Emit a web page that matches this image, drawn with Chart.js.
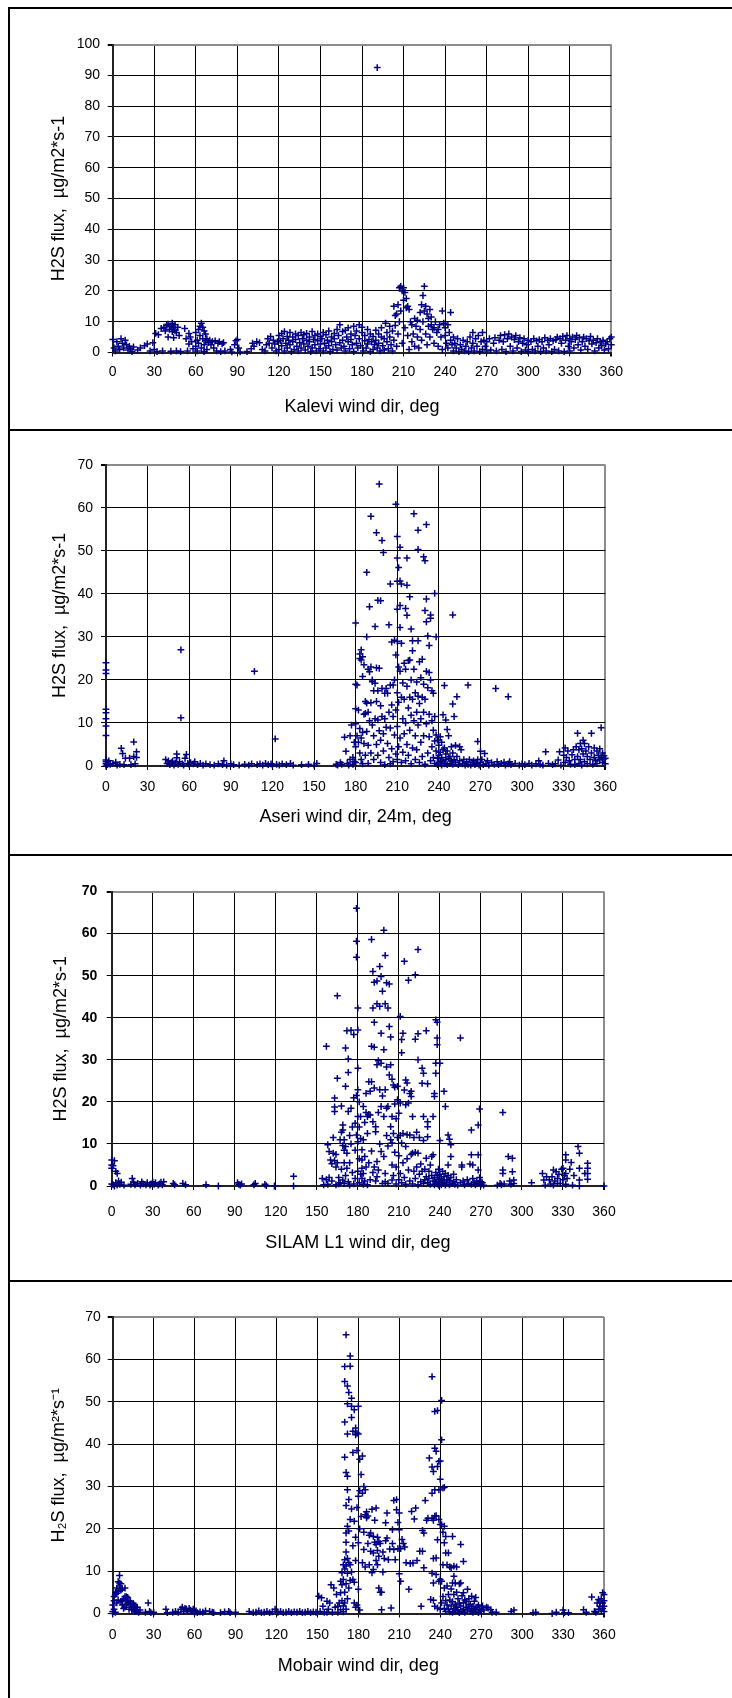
<!DOCTYPE html>
<html>
<head>
<meta charset="utf-8">
<script src="https://cdn.jsdelivr.net/npm/chart.js@4.4.0/dist/chart.umd.min.js"></script>
<style>
body { margin: 0; background: #fff; }
#page { position: relative; width: 732px; height: 1698px; overflow: hidden; background: #fff; }
#page canvas { position: absolute; left: 0; }
.frame { position: absolute; background: #000; }
</style>
</head>
<body>
<div id="page">
  <canvas id="kalevi" width="732" height="430" style="top:0px"></canvas>
  <canvas id="aseri" width="732" height="424" style="top:431px"></canvas>
  <canvas id="silam" width="732" height="425" style="top:856px"></canvas>
  <canvas id="mobair" width="732" height="416" style="top:1282px"></canvas>
  <div class="frame" style="left:8px;top:7px;width:724px;height:2px"></div>
  <div class="frame" style="left:8px;top:7px;width:2px;height:1691px"></div>
  <div class="frame" style="left:8px;top:429px;width:724px;height:2px"></div>
  <div class="frame" style="left:8px;top:854px;width:724px;height:2px"></div>
  <div class="frame" style="left:8px;top:1280px;width:724px;height:2px"></div>
</div>
<script>
// tick labels
const dirTicks = [0, 30, 60, 90, 120, 150, 180, 210, 240, 270, 300, 330, 360];
const fluxTicks100 = [0, 10, 20, 30, 40, 50, 60, 70, 80, 90, 100];
const fluxTicks70 = [0, 10, 20, 30, 40, 50, 60, 70];

// [wind dir, H2S flux]
const kaleviPoints = [
  [0,4.2],[1,1.5],[2,0.5],[3,3.5],[4,2],[5,1],[6,4.5],[7,3],[8,1.5],[9,4],[10,2.5],[11,0.8],[12,2],[13,1.2],[14,0.3],[15,1.8],
  [18,0.8],[20,1.5],[23,2.2],[25,2.8],[27,0.5],[29,3.2],[30,1],
  [31,6.2],[32,0.3],[33,5.8],[35,7.8],[36,0.5],[37,8.2],[38,7],[39,8.8],[40,5],[40,9.2],[41,7.5],[42,8.5],[42,0.4],[43,9.5],[43,6.8],[44,8],[44,4.8],[45,9],[45,7.2],[46,6.5],[46,0.5],[47,8.2],[48,5.5],[49,0.3],
  [52,7.8],[53,4.5],[54,0.5],[55,2.8],[55,6.2],[56,5],[57,3.5],[58,1.2],
  [60,2],[60,6.5],[61,4],[61,0.5],[62,7.5],[62,3],[63,8.5],[63,5.5],[64,9.5],[64,1.5],[65,8.2],[65,4.5],[66,7],[66,2.5],[66,0.3],[67,6],[67,3.8],[68,4.5],[68,1],[69,3.2],[70,4],[71,2.5],[72,3.5],[73,1.5],[74,3.8],[75,0.5],[76,3],[77,3.5],[78,0.3],[79,2.8],[80,3.2],[81,0.5],
  [85,1],[86,0.2],[88,2.5],[89,3.8],[90,4.2],[91,1.5],[92,0.2],
  [97,0.3],[100,1.2],[101,3],[102,2],[104,3.5],[106,3.2],[108,1],
  [110,0.5],[111,2.5],[112,4.5],[113,3],[114,5.2],[115,1.5],[116,4],[117,2.8],[118,0.5],[119,3.5],
  [120,5.5],[120,1],[121,3.8],[122,6.2],[122,2.2],[123,4.5],[124,0.5],[124,6.8],[125,3],[126,5.2],[126,1.5],[127,4],[128,6.5],[128,2.5],[129,0.3],[130,5],[130,3.5],[131,1],[132,6],[132,4.2],[133,2],[134,5.5],[134,0.5],[135,3.2],[136,6.5],[136,1.5],[137,4.5],[138,2.8],[138,5.8],[139,0.8],[140,4],[140,6.2],[141,2],[142,5],[142,3.5],[143,0.3],[144,6.8],[144,1.5],[145,4.2],[146,5.5],[146,2.5],[147,0.5],[148,3.8],[148,6],[149,1.2],[150,5.2],[150,2.8],[151,4.5],[152,0.5],[152,6.5],[153,3],[154,1.5],[154,5.8],[155,4],[156,2.2],[156,7],[157,0.3],[158,5],[158,3.5],[159,1],
  [160,6.2],[160,4.5],[161,2.5],[162,7.5],[162,0.8],[163,5.5],[164,3.2],[164,9],[165,1.5],[166,6.8],[166,4],[167,2],[168,7.2],[168,0.5],[169,5],[170,3.5],[170,8],[171,1.2],[172,6],[172,4.2],[173,2.5],[174,8.5],[174,0.3],[175,5.5],[176,3],[176,7],[177,1.5],[178,9],[178,4.5],[179,2.2],
  [180,6.5],[180,8.2],[181,0.5],[182,3.8],[182,5.5],[183,1.5],[184,7.5],[184,2.8],[185,4.2],[186,0.3],[186,6],[187,3.5],[188,1],[188,5.2],[189,2.5],[190,7.2],[190,4],[191,92.5],[191,1.5],[192,6],[192,3],[193,0.5],[194,5],[194,8],[195,2.2],[196,4.5],[196,0.8],[197,9.5],[198,6.5],[198,3.5],[199,1.2],
  [200,8.5],[200,5],[201,2.5],[202,7],[202,0.5],[203,15],[203,4],[204,12],[204,8.8],[205,12.5],[205,2],[206,15.5],[206,6],[207,21],[207,10],[208,21.5],[208,13.5],[209,20],[209,3],[210,21],[210,17],[211,19.5],[211,8],[212,17.5],[212,14.5],[213,15],[213,5.5],[214,14],[214,1],[215,10],[216,9],[216,3.5],[217,6],[218,11],[218,2],[219,8.5],
  [220,5],[220,10.5],[221,1.5],[222,13],[222,7.5],[223,15.5],[223,4],[224,18.5],[224,10],[225,21.5],[225,13.5],[226,15],[226,6],[227,12.5],[227,2.5],[228,11],[228,8.5],[229,14],[229,5],[230,9],[230,11.5],[231,7.5],[232,3],[232,8],[233,10],[234,6.5],[235,7.5],[235,2],[236,9],[237,5],[238,13.5],[238,1],[239,9.5],
  [240,5.5],[240,8],[241,3],[242,9],[242,1.5],[243,6.5],[244,13],[244,4],[245,2.5],[246,5],[246,0.5],[247,3],[248,1.5],[249,4.5],[250,0.3],[251,2.5],[252,1],[253,4],[254,0.5],[255,2],[256,3.5],[257,0.3],[258,5],[259,1.5],
  [260,6.5],[260,3],[261,0.5],[262,4.5],[263,2],[264,5.5],[265,0.3],[266,3.5],[267,6.5],[267,1],[268,4],[269,2],[270,0.5],[270,3.5],
  [272,4.5],[273,0.8],[275,3],[276,4.8],[277,0.5],[279,4],[280,5.5],[281,1],[282,3.5],[283,5.8],[284,0.3],[285,4.5],[286,6],[287,2],[288,5],[289,0.5],[290,4.2],[291,5.5],[292,1.5],[293,3.5],[294,4.8],[295,0.3],[296,3],[297,4.5],[298,0.8],[299,2.5],
  [300,4],[300,0.3],[302,3.5],[303,1],[304,4.5],[305,0.5],[306,3.8],[307,2],[308,4.2],[309,0.3],[310,3.5],[311,1.5],[312,4.8],[313,0.5],[314,4],[315,2.5],[316,4.5],[317,0.3],[318,3.8],[319,1],[320,4.2],[321,5],[322,0.5],[323,4.5],[324,3],[325,5.2],[326,0.3],[327,4],[328,5.5],[329,2],
  [330,4.5],[330,0.5],[331,3.5],[332,5],[333,1.5],[334,4.2],[335,5.5],[336,2.5],[337,4.8],[338,0.8],[339,3.5],[340,5],[341,2],[342,4.5],[343,1],[344,3.8],[345,5.2],[346,2.8],[347,4],[348,0.5],[349,3.2],[350,4.5],[351,1.5],[352,3.5],[353,2.2],[354,4],[355,0.8],[356,2.8],[357,3.5],[358,1.2],[359,4.5],[360,2.5],[360,5]
];

const aseriPoints = [
  [0,24],[0,22.3],[0,21.5],[0,13.2],[0,12.4],[0,11],[0,9.3],[0,7.1],[0,1.4],[0,1],[0,0.5],[0,0],[1,0.3],[2,1.2],[3,0.4],[5,0.6],[7,0.9],[8,0.2],[10,0.4],
  [11,4.1],[12,2.9],[13,0.3],[14,1.8],[17,1.8],[18,0.3],[20,5.6],[20,2.2],[21,0.5],[22,3.3],[22,2],
  [43,1.5],[44,0.6],[45,1.2],[46,0.3],[47,0.8],[48,1.1],[49,0.2],[50,0.7],[51,2.8],[51,1.9],[52,0.4],[53,1],[54,27],[54,11.2],[55,0.5],[56,0.2],[57,1.8],[58,2.7],[59,0.6],[60,0.3],[61,0.8],[63,0.5],[64,1],[66,0.3],[68,0.6],[70,0.2],[72,0.5],
  [75,0.3],[78,0.2],[81,0.5],[84,0.3],[85,1.2],[87,0.2],[90,0.5],[92,0.3],[96,0.2],[100,0.4],[103,0.2],[105,0.5],[107,22],[109,0.3],[111,0.5],[113,0.2],[115,0.6],[117,0.3],[119,0.5],[120,0.2],[122,6.3],[123,0.4],[125,0.2],[127,0.5],[130,0.3],[133,0.6],[135,0.2],[141,0.3],[146,0.4],[150,0.2],[152,0.6],
  [166,0.4],[167,0.2],[169,0.8],[170,0.4],[172,6.7],[173,3.4],[174,0.6],[175,0.2],[176,1.5],[176,7],[177,9.5],[178,2],[178,0.4],[179,5.5],[179,1],
  [180,33.2],[180,19],[180,13.3],[180,9.8],[180,4.5],[180,0.8],[181,18.8],[181,7],[182,13],[182,5.5],[183,26],[183,25],[183,8.7],[183,3],[184,27],[184,24.6],[184,6.5],[184,1.5],[185,25.4],[185,20.8],[185,7.8],[185,0.5],[186,23.5],[186,12],[186,5.2],[187,15],[187,12.2],[187,2.5],[188,45],[188,30],[188,14.6],[188,8],[189,22.5],[189,12.5],[189,4.8],[189,0.6],
  [190,37],[190,21.9],[190,10.5],[191,58],[191,23],[191,14.7],[191,3],[192,20],[192,19.6],[192,9.5],[193,17.5],[193,7],[193,1.5],[194,32.4],[194,19.2],[194,11],[195,54.2],[195,22.8],[195,15],[195,5],[196,38.5],[196,17.5],[196,10.7],[196,2.5],[197,65.5],[197,22.7],[197,8.2],[198,38.4],[198,14],[198,6],[198,0.8],[199,52.4],[199,18],[199,11.5],
  [200,49.6],[200,7.5],[200,3.5],[201,16.9],[201,11],[201,0.3],[202,18],[202,9],[203,16.9],[203,5.2],[204,32.8],[204,12.5],[204,2],[205,42.3],[205,18.8],[205,8.8],[205,0.5],[206,28.8],[206,14.2],[206,4],[207,18.8],[207,11.5],[207,1],[208,29.2],[208,20],[208,7.2],[209,60.8],[209,25.8],[209,13],[209,2.8],
  [210,53.3],[210,48.3],[210,42.9],[210,36.4],[210,29],[210,17],[210,9.2],[210,1.5],[211,46.1],[211,23],[211,14.8],[211,4.5],[212,50.8],[212,37.3],[212,32.2],[212,43],[212,22],[212,6.5],[213,42.3],[213,28.5],[213,16],[213,0.8],[214,19.3],[214,11],[214,3.2],[215,23.9],[215,15.5],[215,7.5],[216,36.6],[216,22.5],[216,10],[216,1.2],[217,48.3],[217,42],[217,35],[217,18.5],[217,5],[218,24.5],[218,13.5],[218,2.5],[219,39.3],[219,24.6],[219,16],[219,8.3],
  [220,31.8],[220,20],[220,11.8],[220,0.5],[221,29.1],[221,26.8],[221,15.5],[221,4.2],[222,58.6],[222,22.5],[222,10.5],[223,17],[223,7],[223,1.5],[224,19.5],[224,12.5],[224,3.8],[225,54.8],[225,29.1],[225,50.3],[225,16.2],[225,9.5],[226,24.2],[226,14.5],[226,0.8],[227,20.5],[227,11],[227,5.5],[228,24.8],[228,16],[228,2.2],[229,48.6],[229,19],[229,12.5],[229,7],
  [230,47.7],[230,36.1],[230,15.5],[230,0.4],[231,56.1],[231,38.8],[231,33.5],[231,22],[231,9.8],[232,30.2],[232,18.2],[232,3],[233,28],[233,21.7],[233,12],[233,6.8],[234,35.1],[234,34.3],[234,20],[234,1.2],[235,17.5],[235,10.5],[235,4.5],[236,16.9],[236,8.3],[236,2],[237,40.1],[237,11.5],[237,5.8],[237,0.6],[238,30],[238,7.2],[238,3.5],[239,6],[239,1.8],[239,0.3],
  [240,4.8],[240,2.5],[240,0.8],[241,6.8],[241,3.2],[241,1],[242,5.5],[242,2],[242,0.2],[243,11.9],[243,3.8],[243,1.2],[244,18.7],[244,4.2],[244,0.5],[245,10.7],[245,2.8],[245,1.5],[246,8.5],[246,3.5],[246,0.3],[247,7],[247,1.8],[248,2.2],[248,0.6],[249,4.5],[249,1.2],
  [250,35.1],[250,14.4],[250,3],[250,0.4],[251,11.5],[251,1.5],[252,4.8],[252,0.8],[253,16.1],[253,2.2],[254,0.3],[255,4.5],[255,1.2],[256,3.8],[257,0.5],[258,1.5],[259,0.2],[260,1],[261,18.8],[261,0.4],[262,1.5],[263,0.2],[264,0.8],[265,1.2],[266,0.3],[267,0.6],[268,5.7],[268,1.5],[269,0.2],
  [270,3.4],[270,0.8],[271,1.5],[272,0.3],[273,2.9],[274,0.6],[275,1.2],[276,0.2],[278,0.8],[280,0.4],[281,18],[282,1],[283,0.3],[285,0.6],[287,0.9],[288,0.2],[290,16.1],[290,0.5],[291,1],[292,0.3],[295,0.6],[298,0.2],
  [300,0.5],[302,0.3],[305,0.6],[307,0.2],[310,0.5],[312,1.2],[313,0.4],[315,0.2],[317,3.3],[319,0.6],[322,0.3],[324,0.5],[326,1.4],[327,3.3],[328,0.2],
  [330,2.5],[331,4.2],[331,0.8],[332,2],[333,3.5],[334,1.2],[335,0.4],[336,2.6],[337,3.8],[338,1.5],[338,0.3],[339,4.5],[340,7.6],[340,2.2],[341,3.8],[341,0.6],[342,5.2],[342,1.5],[343,4],[343,0.2],[344,6],[344,2.8],[345,5.2],[345,1],[346,3.5],[347,0.5],[347,2.2],[348,4.5],[349,1.5],
  [350,7.6],[350,3],[351,0.4],[352,4.2],[352,2],[353,1.2],[354,3.5],[354,0.6],[355,2.5],[356,4],[356,1.5],[357,8.9],[357,2],[358,3],[358,0.8],[359,2.4],[359,1.6],[360,1.8],[360,0.5]
];

const silamPoints = [
  [0,6.2],[0,5],[0,4.2],[0,0.5],[1,4.8],[1,0.3],[2,6],[2,0],[3,3.5],[3,0.8],[4,3],[4,0.2],[5,1.2],[6,0.4],[7,0.9],[9,0.2],
  [14,0.4],[15,1.8],[16,0.9],[17,0.3],[19,0.6],[21,0.2],[22,1],[23,0.5],[25,0.3],[26,0.8],[28,0.2],[29,0.5],[30,1],[31,0.4],[32,0.8],[34,0.2],[35,0.5],[36,0.9],[37,0.3],[38,1],[45,0.6],[46,0.3],[52,0.6],[54,0.3],
  [69,0.3],[78,0],[92,0.8],[93,0.4],[94,0.2],[95,0.5],[104,0.3],[105,0.6],[112,0.4],[113,0.1],[119,0],[133,2.3],[133,0],
  [154,1.8],[155,0.3],[157,1.5],[157,33.2],[158,9.8],[158,0.4],[159,8.2],[159,2],[160,6.2],[161,5.3],[161,1.2],[162,11.5],[162,7.8],[163,20.9],[163,18.8],[163,17.7],[163,6],[164,7.5],[164,4.5],[164,0.3],[165,45.2],[165,25.6],[165,5.5],[166,2],[166,0.5],[167,11],[167,0.8],[168,19],[168,12.8],[168,4],[169,14.5],[169,13.3],[169,9.6],[169,1.4],
  [170,11],[170,8.5],[170,5.5],[170,0.6],[171,32.8],[171,23.7],[171,9.4],[171,2.5],[172,36.9],[172,7.8],[172,4.2],[173,30.2],[173,27],[173,17.7],[173,1],[174,12],[174,5.5],[174,0.2],[175,37],[175,18.5],[175,10],[176,14],[176,3.2],[177,36],[177,21],[177,0.5],[178,14.9],[178,8.5],[178,1.8],[179,66],[179,58.2],[179,54.4],[179,21.5],[179,12.1],
  [180,42.3],[180,37.1],[180,28],[180,22.9],[180,16.5],[180,10.5],[180,3.5],[181,20],[181,14],[181,6.5],[181,0.8],[182,16.5],[182,11.3],[182,2.8],[183,8.6],[183,6.2],[183,4.2],[183,1.8],[184,18.9],[184,11],[184,3],[184,0.4],[185,15.1],[185,7],[185,1.2],[186,22],[186,17.5],[186,4.5],[187,16.5],[187,12.5],[187,0.3],[188,24.8],[188,17],[188,5.5],[189,22.5],[189,16.9],[189,1.5],
  [190,58.6],[190,33.2],[190,24.8],[190,8.3],[191,51],[191,42.3],[191,15.3],[191,3.2],[192,48.4],[192,38.9],[192,33],[192,23.3],[192,4.5],[193,14.1],[193,12.9],[193,1.2],[194,48.7],[194,43.3],[194,28.8],[194,5.8],[194,2.2],[195,29.8],[195,17.5],[195,3.8],[196,52.2],[196,42.7],[196,22.9],[196,10],[197,49.8],[197,36.3],[197,29.2],[197,18.9],[197,8.2],[198,46.3],[198,21.4],[198,0.6],[199,60.8],[199,32.4],[199,16.5],[199,7],
  [200,54.8],[200,43.3],[200,22.9],[200,3],[200,1],[201,48.3],[201,28.3],[201,18.5],[201,12],[202,42.3],[202,18.9],[202,9.5],[202,0.6],[203,48],[203,37.9],[203,26.4],[204,35.4],[204,28.8],[204,14.1],[204,11],[205,25.4],[205,16.5],[205,10.2],[205,5],[205,1.4],[206,24],[206,12.5],[206,2.5],[207,23.5],[207,19.5],[207,8],[208,16],[208,4.5],[208,0.5],[209,23.7],[209,20.5],[209,11.5],
  [210,17.3],[210,7.2],[210,1.5],[211,40.3],[211,19.7],[211,12],[211,3],[212,34.8],[212,31.7],[212,10.2],[212,0.8],[213,36.3],[213,12.5],[213,5.5],[214,53.4],[214,22.8],[214,2],[215,25.2],[215,19.3],[215,9.4],[215,0.4],[216,24.5],[216,12.2],[216,6.5],[217,48.9],[217,19.7],[217,3.8],[218,22],[218,12.1],[218,1.2],[219,22.5],[219,21.3],[219,7.5],
  [220,16.5],[220,7.8],[220,0.5],[221,11.5],[221,3.5],[222,50.2],[222,34.9],[222,8],[222,1.8],[223,12.8],[223,4.5],[224,56.2],[224,36.2],[224,30],[224,7.8],[224,0.3],[225,11.5],[225,2.8],[226,5.2],[226,1],[227,28],[227,24.4],[227,3.5],[228,26.8],[228,16.5],[228,10.8],[228,0.6],[229,4],[229,1.5],
  [230,36.9],[230,6.6],[230,2.2],[231,24.3],[231,15.3],[231,14.1],[231,11.7],[231,0.8],[232,3.5],[232,1.8],[233,5],[233,0.4],[234,7],[234,2.5],[235,16.5],[235,7.4],[235,1.2],[236,22],[236,21.3],[236,2],[236,0.3],[237,39.5],[237,29.2],[237,26.8],[237,3.2],[237,1],[238,38.9],[238,35.2],[238,33.6],[238,2.5],[238,0.5],[239,4],[239,1.5],[239,0.2],
  [240,29.2],[240,10.8],[240,2.8],[240,0.8],[241,1.8],[241,0.3],[242,3.5],[242,1.2],[243,22.5],[243,2.2],[243,0.6],[244,18.9],[244,3],[244,0.2],[245,1.5],[245,0.8],[246,12.1],[246,5],[246,2.5],[247,11.1],[247,1.2],[247,0.3],[248,9.8],[248,7],[248,2],[249,0.6],
  [250,2.8],[250,1],[251,0.4],[252,1.5],[253,0.2],[255,35.2],[255,0.8],[256,5],[256,4.5],[257,1.2],[258,0.3],[260,1.5],[261,0.6],[262,5.2],[263,13.3],[263,7.4],[263,0.4],[264,5],[264,1.8],[265,0.8],[266,0.3],[267,1.2],[268,14.5],[268,7.4],[268,3.8],[268,0.6],[269,18.3],[269,2],[270,1],[270,0.3],[271,0.8],[272,0.2],
  [282,0.2],[284,0.6],[285,0.3],[286,17.5],[286,3.8],[286,3],[287,0.5],[290,7],[291,1.2],[292,0.4],[293,6.6],[293,3.4],[294,1.4],[294,0.6],
  [307,0.8],[315,3],[316,1.4],[317,0.2],[318,2.2],[320,1.5],[321,0.5],[322,2.2],[323,3.8],[323,0.2],[324,1.2],[325,3.4],[326,1.8],[326,0.6],[327,2.8],[328,0.6],[329,4],
  [330,4.2],[330,1.5],[331,2.5],[332,7.4],[332,6.2],[332,3],[332,0.4],[333,1.8],[335,4],[336,5.6],[337,0.2],[338,2.5],[341,9.4],[342,7.8],[342,4.2],[342,1.4],[342,0],[346,3],[348,5.4],[348,4.2],[348,3],[348,1.6],[360,0]
];

const mobairPoints = [
  [0,0.5],[0,2],[0,0],[1,4],[1,3],[1,1],[2,5],[2,4.5],[2,0.3],[3,6],[3,2.5],[3,4.8],[4,7.5],[4,5.2],[4,3.2],[5,9],[5,6.5],[5,7.2],[6,7],[6,5.5],[6,2.8],[7,3],[7,2],[7,5.8],[8,3.5],[8,1.2],[9,6],[9,1.5],[9,4],
  [10,4],[10,3],[10,2.2],[11,2.5],[11,3.8],[12,3],[12,1],[13,2],[13,2.8],[14,1.5],[14,0.8],[15,1],[15,2.4],[16,2],[16,0.5],[17,0.5],[17,1.4],[18,1.5],[19,0.3],[20,0.8],[24,0.3],[26,2.5],[27,0.5],[28,0.2],[30,0.3],
  [39,1],[40,0.2],[44,0.3],[46,0.5],[48,0.3],[50,1],[51,1.5],[52,0.5],[53,1.2],[54,1],[55,0.5],[56,1.2],[57,0.8],[58,0.5],[59,1],[60,0.3],[61,0.6],[62,0.2],[64,0.4],[66,0.3],[68,0.6],[71,0.5],[73,0.3],[74,0.2],[79,0.2],[82,0.4],[85,0.5],[86,0.2],[90,0.3],
  [100,0.5],[103,0.2],[105,0.3],[107,0.6],[109,0.2],[111,0.3],[113,0.5],[115,0.2],[117,0.4],[119,1],[121,0.3],[123,0.5],[125,0.2],[127,0.3],[129,0.5],[131,0.2],[133,0.4],[135,0.3],[137,0.5],[139,0.2],[141,0.3],[143,0.5],[145,0.2],[147,0.4],[149,0.3],
  [151,4.1],[152,0.5],[153,3.7],[154,1.7],[155,0.3],[157,2.9],[157,0.3],[158,1],[159,2.5],[160,6.8],[161,0.3],[162,6],[163,1.5],[164,4.5],[165,1.7],[165,0.3],[166,2.5],[167,7.6],[167,4.9],[167,0.9],[168,9.6],[168,6.8],[168,3],[169,11.5],[169,8],[169,1.8],[169,0.4],
  [170,58.3],[170,54.8],[170,45.2],[170,36.9],[170,12.7],[170,10.5],[170,5],[170,2.5],[171,65.8],[171,33.3],[171,25.5],[171,19],[171,16.8],[171,14.5],[171,11.2],[171,7],[171,1],[172,53.7],[172,49.5],[172,42.4],[172,32.4],[172,29.2],[172,20.6],[172,13],[172,9.5],[172,3.5],[173,52.2],[173,26.9],[173,19.5],[173,12],[173,6],[174,60.8],[174,58.4],[174,22.2],[174,11.5],[174,7.8],
  [175,50.8],[175,48.9],[175,46.3],[175,24.7],[175,9.8],[176,43],[176,38],[176,16],[176,8],[177,48.1],[177,21.8],[177,7.4],[177,2.5],[178,43.8],[178,42.2],[178,18],[178,12.5],[178,1.5],[179,42.6],[179,38.5],[179,25],[179,2],
  [180,48.9],[180,42.4],[180,27.7],[180,16.7],[180,5.7],[181,36.4],[181,29],[181,20],[181,0.8],[182,32.8],[182,22.9],[183,37.2],[183,28.4],[183,12],[184,30],[184,19.2],[184,15.1],[185,29.2],[185,23.3],[185,11],[186,24],[186,22.6],[187,23],[187,16.5],[188,11.5],[188,18.5],[189,19],[189,14.7],
  [190,24.6],[190,9.6],[191,18.2],[191,14.3],[191,10.4],[192,22],[192,16.8],[193,24.9],[193,16.3],[193,12.5],[194,14.9],[194,11.5],[194,18],[195,17],[195,13.5],[195,6],[196,16.5],[196,5],[197,5],[197,0.9],[198,14.5],[198,9.8],[199,13],
  [200,21.4],[200,17.2],[201,23.7],[201,17.8],[202,12.7],[203,15.2],[204,1.3],[205,19.8],[205,16.5],[206,15.1],[206,26.7],[207,12.7],[208,26.9],[208,24.5],[209,21.5],[209,15.3],[210,23.7],[210,19.8],[210,9.4],[211,15.3],[211,7.6],[212,17.5],[213,16.5],[214,15.7],[215,12],[217,5.7],[218,11.8],[219,24.1],
  [220,11.9],[221,22.3],[222,24.9],[223,12.5],[225,14.7],[226,1.7],[227,19.6],[227,14.7],[228,19],[228,10.8],[229,26.7],[230,22],[231,22.5],[232,36.7],[233,3.3],[234,55.9],[234,34.6],[234,28.4],[234,22.5],[234,9.5],[235,33.5],[235,22],[235,13],[235,7.2],[235,3.1],[236,47.7],[236,39],[236,29.2],[236,23],[236,1.7],[237,38.3],[237,23.1],[237,13.1],[237,9.2],[238,47.9],[238,34.7],[238,17.4],[238,1.3],[239,35.9],[239,29.2],[239,22.2],[239,7.6],
  [240,36],[240,31.7],[240,21],[240,8],[240,1],[241,50.3],[241,41],[241,21],[241,7.6],[241,2.5],[242,29.6],[242,19.2],[242,11.5],[242,4],[243,29.8],[243,20.6],[243,16.7],[243,6],[243,1.2],[244,18.2],[244,14.3],[244,3],[244,0.5],[245,11.5],[245,6.5],[245,2],[246,14.3],[246,4.5],[246,1],[247,11],[247,3.2],[247,0.4],[248,10.8],[248,5.8],[248,1.8],[249,18.2],[249,7.2],[249,2.8],[249,0.3],
  [250,11.2],[250,8.8],[250,4.5],[250,1.2],[251,7.2],[251,2.2],[251,0.6],[252,11],[252,5],[252,1.5],[253,3.5],[253,0.8],[254,7],[254,2.5],[254,0.2],[255,16.3],[255,7.2],[255,1.8],[256,4.2],[256,0.5],[257,12.3],[257,4.9],[257,2.5],[257,1],[258,3.2],[258,0.3],[259,1.5],[259,2.8],
  [260,5.7],[260,0.8],[261,3.5],[261,1.8],[262,0.5],[262,2.2],[263,4.1],[263,1.2],[264,1.7],[264,0.3],[265,2.9],[265,1],[266,3.8],[266,0.6],[267,1.5],[268,2],[268,0.2],[269,1],
  [270,0.5],[271,1.8],[272,0.8],[274,1.5],[275,1.3],[277,0.9],[278,0.3],[281,0.3],[292,0.5],[294,0.8],[308,0.2],[310,0.3],[322,0],[325,0.3],[330,0.8],[331,0.2],[334,0.2],[345,0.9],[347,0.3],
  [351,3.9],[353,0.5],[354,0.3],[355,2.5],[356,3.3],[356,1],[357,1.7],[357,2.5],[358,3.5],[358,0.6],[359,4.9],[359,2.5],[359,1.2],[360,4.5],[360,1.7],[360,3],[360,0.5]
];

const FONT = "'Liberation Sans', Arial, sans-serif";
const MARK = '#000080';

function makeChart(id, points, xTitle, yTitle, yTicks, g, boldY) {
  const yMax = yTicks[yTicks.length - 1];
  new Chart(document.getElementById(id), {
    type: 'scatter',
    data: {
      datasets: [{
        data: points.map(p => ({ x: p[0], y: p[1] })),
        pointStyle: 'cross',
        pointRadius: 3.4,
        pointBorderWidth: 1.5,
        pointBorderColor: MARK,
        borderColor: MARK,
        backgroundColor: MARK,
        clip: false
      }]
    },
    options: {
      responsive: false,
      animation: false,
      devicePixelRatio: 1,
      events: [],
      layout: { padding: { top: g.top, right: g.right, bottom: g.bottom, left: 0 } },
      plugins: { legend: { display: false }, tooltip: { enabled: false } },
      scales: {
        x: {
          type: 'linear', min: 0, max: 360,
          afterBuildTicks: s => { s.ticks = dirTicks.map(v => ({ value: v })); },
          afterFit: s => { s.height = g.xh; },
          grid: {
            color: c => (c.tick && c.tick.value === 360) ? '#8c8c8c' : '#000',
            lineWidth: c => (c.tick && c.tick.value === 360) ? 2 : 1,
            tickColor: '#000', tickLength: 4
          },
          border: { color: '#222', width: 2 },
          ticks: { padding: g.xpad, color: '#000', maxRotation: 0, autoSkip: false, font: { family: FONT, size: 14 } },
          title: { display: true, text: xTitle, color: '#000', padding: { top: 0, bottom: 0 }, font: { family: FONT, size: 18 } }
        },
        y: {
          type: 'linear', min: 0, max: yMax,
          afterBuildTicks: s => { s.ticks = yTicks.map(v => ({ value: v })); },
          afterFit: s => { s.width = g.left; },
          grid: {
            color: c => (c.tick && c.tick.value === yMax) ? '#8c8c8c' : '#000',
            lineWidth: c => (c.tick && c.tick.value === yMax) ? 2 : 1,
            tickColor: '#000', tickLength: 5
          },
          border: { color: '#222', width: 2 },
          ticks: { padding: g.ypad, color: '#000', autoSkip: false, font: { family: FONT, size: 14, weight: boldY ? 'bold' : 'normal' } },
          title: { display: true, text: yTitle, color: '#000', padding: { top: g.ytp, bottom: 0 }, font: { family: FONT, size: 18 } }
        }
      }
    }
  });
}

makeChart('kalevi', kaleviPoints, 'Kalevi wind dir, deg', 'H2S flux,  µg/m2*s-1', fluxTicks100,
  { top: 44.5, right: 120.7, bottom: 12.5, left: 112.7, xh: 65, xpad: 7.6, ypad: 7.7, ytp: 48.2 }, false);
makeChart('aseri', aseriPoints, 'Aseri wind dir, 24m, deg', 'H2S flux,  µg/m2*s-1', fluxTicks70,
  { top: 33.7, right: 126.7, bottom: 27.2, left: 106, xh: 61.8, xpad: 8.3, ypad: 8, ytp: 49.5 }, false);
makeChart('silam', silamPoints, 'SILAM L1 wind dir, deg', 'H2S flux,  µg/m2*s-1', fluxTicks70,
  { top: 35.5, right: 128, bottom: 26.9, left: 111.7, xh: 68.1, xpad: 13.3, ypad: 9.4, ytp: 50.5 }, true);
makeChart('mobair', mobairPoints, 'Mobair wind dir, deg', 'H₂S flux,  µg/m²*s⁻¹', fluxTicks70,
  { top: 35, right: 128, bottom: 21.2, left: 112.7, xh: 63.3, xpad: 9.1, ypad: 7, ytp: 48.2 }, false);
</script>
</body>
</html>
